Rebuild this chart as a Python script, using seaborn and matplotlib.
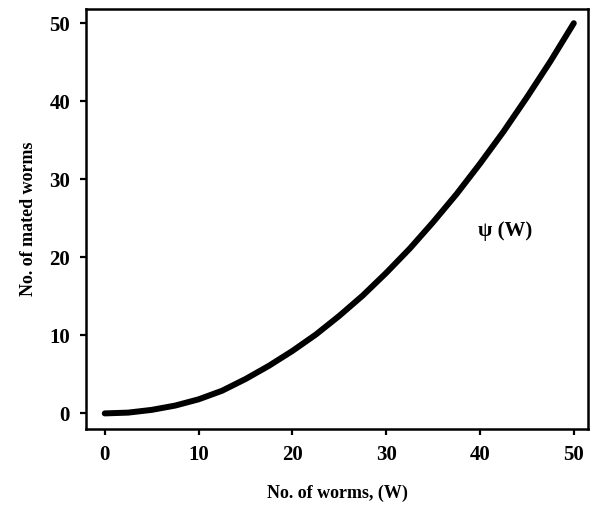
import pandas as pd
import matplotlib.pyplot as plt
import seaborn as sns

worms = [0, 2.5, 5, 7.5, 10, 12.5, 15, 17.5, 20, 22.5, 25, 27.5, 30,
         32.5, 35, 37.5, 40, 42.5, 45, 47.5, 50]
mated = [0, 0.1, 0.45, 1.0, 1.8, 2.9, 4.4, 6.1, 8.0, 10.1, 12.5, 15.1, 18.0,
         21.1, 24.5, 28.1, 32.0, 36.1, 40.5, 45.1, 50.0]
xticks = [0, 10, 20, 30, 40, 50]
yticks = [0, 10, 20, 30, 40, 50]

sns.set_theme(style="ticks")
plt.rcParams['font.family'] = ['Liberation Serif', 'DejaVu Serif']
plt.rcParams.update({'text.color': 'black', 'axes.labelcolor': 'black',
                     'xtick.color': 'black', 'ytick.color': 'black'})

df = pd.DataFrame({'W': worms, 'psi': mated})

fig = plt.figure(figsize=(5.91, 5.08), dpi=100)
ax = fig.add_axes([0.1455, 0.1555, 0.85, 0.8265])

sns.lineplot(data=df, x='W', y='psi', ax=ax, color='black', linewidth=4.3,
             solid_capstyle='round', solid_joinstyle='round')

ax.set_xlim(-2.0, 51.55)
ax.set_ylim(-2.0, 51.8)
ax.set_xticks(xticks)
ax.set_yticks(yticks)
ax.tick_params(direction='out', length=4.5, width=1.6, labelsize=15, pad=7)
for lab in ax.get_xticklabels() + ax.get_yticklabels():
    lab.set_fontweight('bold')
for s in ax.spines.values():
    s.set_linewidth(1.8)
    s.set_color('black')

ax.set_xlabel('No. of worms, (W)', fontsize=13, fontweight='bold', labelpad=14)
ax.set_ylabel('No. of mated worms', fontsize=13, fontweight='bold', labelpad=9)

ax.text(42.7, 23.4, '\u03c8 (W)', fontsize=15, fontweight='bold',
        ha='center', va='center')

fig.savefig('out.png', dpi=100)
